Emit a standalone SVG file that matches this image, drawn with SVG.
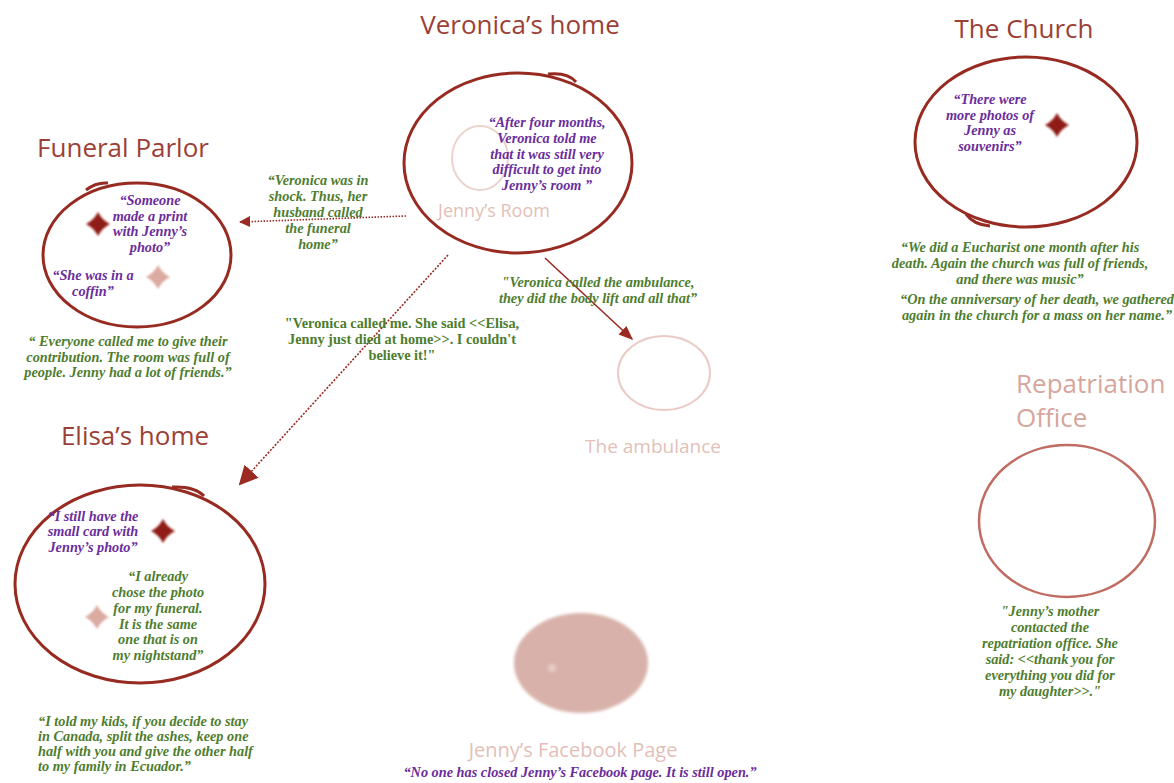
<svg xmlns="http://www.w3.org/2000/svg" width="1174" height="783" viewBox="0 0 1174 783">
<defs>
<style>
.title{font-family:"Open Sans","DejaVu Sans",sans-serif;fill:#9c3f36;font-size:26px;text-anchor:middle}
.faint{font-family:"Open Sans","DejaVu Sans",sans-serif;fill:#e3bfb8;text-anchor:middle}
.q{font-family:"Liberation Serif","DejaVu Serif",serif;font-weight:bold;font-style:italic;font-size:14.3px;text-anchor:middle}
.p{fill:#6a2d9c}
.g{fill:#4e7d2e}
.ring{fill:none;stroke:#972b22;stroke-width:3}
.conn{fill:none;stroke:#9a2a22;stroke-width:1.6}
</style>
<filter id="soft" x="-20%" y="-20%" width="140%" height="140%"><feGaussianBlur stdDeviation="0.8"/></filter>
<filter id="blob" x="-20%" y="-20%" width="140%" height="140%"><feGaussianBlur stdDeviation="1.6"/></filter>
<path id="star" d="M0,-12 Q4,-4 12,0 Q4,4 0,12 Q-4,4 -12,0 Q-4,-4 0,-12Z"/>
<marker id="arrowL" viewBox="0 0 10 10" refX="9" refY="5" markerWidth="7" markerHeight="7" orient="auto"><path d="M0,0 L10,5 L0,10Z" fill="#9a2a22"/></marker>
<marker id="arrowE" viewBox="0 0 10 10" refX="9" refY="5" markerWidth="12" markerHeight="12" orient="auto"><path d="M0,0 L10,5 L0,10Z" fill="#9a2a22"/></marker>
<marker id="arrowS" viewBox="0 0 10 10" refX="9" refY="5" markerWidth="9" markerHeight="9" orient="auto"><path d="M0,1 L10,5 L0,9Z" fill="#9a2a22"/></marker>
</defs>
<rect width="1174" height="783" fill="#ffffff"/>

<g id="connectors">
<path class="conn" d="M406,216 L240,222" stroke-dasharray="1.5 1.5" marker-end="url(#arrowL)"/>
<path class="conn" d="M448,255 L240,484" stroke-dasharray="2 1.5" stroke-width="2" marker-end="url(#arrowE)"/>
<path class="conn" d="M545,258 L632,339" stroke-width="0.8" marker-end="url(#arrowS)"/>
<g class="q g">
<text x="318" y="185">“Veronica was in</text>
<text x="318" y="201">shock. Thus, her</text>
<text x="318" y="217">husband called</text>
<text x="318" y="233">the funeral</text>
<text x="318" y="249">home”</text>
</g>
<g class="q g" style="font-style:normal" xml:space="preserve">
<text x="402" y="328">"Veronica called me.  She said &lt;&lt;Elisa,</text>
<text x="402" y="344">Jenny just died at home&gt;&gt;.  I couldn't</text>
<text x="402" y="360">believe it!"</text>
</g>
<g class="q g">
<text x="598" y="287">"Veronica called the ambulance,</text>
<text x="598" y="303">they did the body lift and all that”</text>
</g>
</g>

<g id="veronica-home">
<text class="title" x="520" y="34" font-size="27">Veronica’s home</text>
<ellipse cx="518" cy="163" rx="114" ry="90" class="ring"/>
<path d="M548,74 Q568,72 576,82" class="ring" stroke-width="1.5"/>
<ellipse cx="480" cy="158" rx="28" ry="32" fill="none" stroke="#ecd3ce" stroke-width="2"/>
<text class="faint" x="494" y="217" font-size="18">Jenny’s Room</text>
<g class="q p" xml:space="preserve">
<text x="547" y="127">“After  four months,</text>
<text x="547" y="143">Veronica told me</text>
<text x="547" y="159">that it was still very</text>
<text x="547" y="174">difficult to get into</text>
<text x="547" y="190">Jenny’s room ”</text>
</g>
</g>

<g id="funeral-parlor">
<text class="title" x="123" y="157">Funeral Parlor</text>
<ellipse cx="137" cy="255" rx="94" ry="72" class="ring"/>
<path d="M86,190 Q96,182 108,183" class="ring" stroke-width="1.5"/>
<use href="#star" x="98" y="224" fill="#8f1c17" filter="url(#soft)"/>
<use href="#star" x="158" y="277" fill="#dbaaa0" filter="url(#soft)"/>
<g class="q p">
<text x="150" y="205">“Someone</text>
<text x="150" y="221">made a print</text>
<text x="150" y="236">with Jenny’s</text>
<text x="150" y="252">photo”</text>
<text x="93" y="280">“She was in a</text>
<text x="93" y="296">coffin”</text>
</g>
<g class="q g">
<text x="128" y="346">“ Everyone called me to give their</text>
<text x="128" y="362">contribution. The room was full of</text>
<text x="128" y="377">people. Jenny had a lot of friends.”</text>
</g>
</g>

<g id="elisa-home">
<text class="title" x="135" y="445">Elisa’s home</text>
<ellipse cx="140" cy="584" rx="125" ry="99" class="ring"/>
<path d="M172,487 Q195,486 204,496" class="ring" stroke-width="1.5"/>
<use href="#star" x="163" y="531" fill="#8f1c17" filter="url(#soft)"/>
<use href="#star" x="97" y="617" fill="#dbaaa0" filter="url(#soft)"/>
<g class="q p" xml:space="preserve">
<text x="93" y="521">“I still have the</text>
<text x="93" y="536">small card  with</text>
<text x="93" y="552">Jenny’s photo”</text>
</g>
<g class="q g" xml:space="preserve">
<text x="158" y="581">“I  already</text>
<text x="158" y="597">chose the photo</text>
<text x="158" y="613">for my funeral.</text>
<text x="158" y="629">It is the same</text>
<text x="158" y="644">one that is on</text>
<text x="158" y="660">my nightstand”</text>
</g>
<g class="q g" style="text-anchor:start">
<text x="38" y="726">“I told my kids, if you decide to stay</text>
<text x="38" y="741">in Canada, split the ashes, keep one</text>
<text x="38" y="756">half with you and give the other half</text>
<text x="38" y="771">to my family in Ecuador.”</text>
</g>
</g>

<g id="ambulance">
<ellipse cx="664" cy="373" rx="46" ry="37" fill="none" stroke="#ebcbc5" stroke-width="2"/>
<text class="faint" x="653" y="453" font-size="19">The ambulance</text>
</g>

<g id="church">
<text class="title" x="1024" y="38">The Church</text>
<ellipse cx="1026" cy="142" rx="111" ry="85" class="ring"/>
<path d="M966,214 Q974,225 990,226" class="ring" stroke-width="1.5"/>
<use href="#star" x="1057" y="125" fill="#8f1c17" filter="url(#soft)"/>
<g class="q p">
<text x="990" y="104">“There were</text>
<text x="990" y="120">more photos of</text>
<text x="990" y="135">Jenny as</text>
<text x="990" y="151">souvenirs”</text>
</g>
<g class="q g">
<text x="1020" y="252">“We did a Eucharist one month after his</text>
<text x="1020" y="268">death. Again the church was full of friends,</text>
<text x="1020" y="284">and there was music”</text>
<text x="1037" y="304">“On the anniversary of her death, we gathered</text>
<text x="1037" y="320">again in the church for a mass on her name.”</text>
</g>
</g>

<g id="repatriation-office">
<text class="faint" x="1016" y="393" font-size="26" style="text-anchor:start;fill:#d6a69c">Repatriation</text>
<text class="faint" x="1016" y="427" font-size="26" style="text-anchor:start;fill:#d6a69c">Office</text>
<ellipse cx="1067" cy="521" rx="88" ry="76" fill="none" stroke="#c06c62" stroke-width="2.5"/>
<g class="q g">
<text x="1050" y="616">"Jenny’s mother</text>
<text x="1050" y="632">contacted the</text>
<text x="1050" y="648">repatriation office. She</text>
<text x="1050" y="664">said: &lt;&lt;thank you for</text>
<text x="1050" y="680">everything you did for</text>
<text x="1050" y="696">my daughter&gt;&gt;."</text>
</g>
</g>

<g id="facebook-page">
<ellipse cx="581" cy="663" rx="67" ry="50" fill="#d8b2aa" filter="url(#blob)"/>
<circle cx="552" cy="668" r="4" fill="#e6cbc5" filter="url(#blob)"/>
<text class="faint" x="573" y="757" font-size="20">Jenny’s Facebook Page</text>
<text class="q p" x="580" y="777">“No one has closed Jenny’s Facebook page. It is still open.”</text>
</g>
</svg>
